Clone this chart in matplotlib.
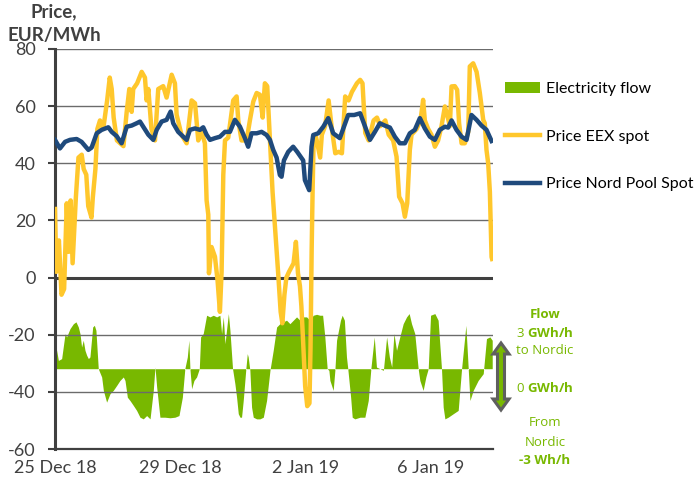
import matplotlib
matplotlib.use("Agg")
import matplotlib.pyplot as plt
from matplotlib.patches import Polygon

plt.rcParams['font.family'] = ['Lato', 'DejaVu Sans']
plt.rcParams['axes.unicode_minus'] = False
plt.rcParams['mathtext.fontset'] = 'custom'
plt.rcParams['mathtext.rm'] = 'Open Sans'
plt.rcParams['mathtext.bf'] = 'Open Sans:bold'

# hours since 25 Dec 2018 00:00
eex_h = [0, 1, 3, 5, 7, 9, 10.5, 12, 13.5, 16, 18, 20.5, 22, 24, 25.5, 28, 29, 31,
         32.5, 34.5, 37, 40, 42, 43.5, 45, 47.5, 50, 52.5, 55, 57, 58.8, 60, 63, 66.5,
         69, 70.3, 71.6, 74, 76.7, 79.2, 83, 85.6, 89.5, 92, 93.3, 97, 101, 104.8,
         107.4, 109.9, 112.5, 115, 116.3, 117.6, 118.1, 120.1, 122.7, 124.7, 126.5,
         127.8, 129.1, 130.4, 132.9, 136.7, 139.3, 140.6, 143.1, 147, 149.5, 152.1,
         154.7, 157.2, 159.3, 161, 162.8, 164.9, 166.9, 168.7, 171.2, 173.1, 174.4,
         176, 177.5, 179.5, 181.5, 183, 184.8, 186.4, 187.9, 189, 190.3, 191.9, 193.5,
         195.2, 196, 196.9, 197.6, 198.4, 200.2, 203.4, 204.7, 207.2, 209.9, 212.4,
         215, 217.5, 220.1, 222.6, 225.2, 227.8, 231.6, 234.1, 235.9, 238, 240.6,
         244.4, 247, 249.5, 253.4, 256, 259.4, 262, 264, 266.6, 268.4, 270.2, 272.2,
         273.5, 277.4, 280.4, 282.4, 283.7, 286.3, 288.8, 291.4, 293.9, 296.5, 299.1,
         300.8, 302.9, 304.2, 306.7, 308.5, 310, 311.9, 314.4, 317, 318.2, 320.8,
         323.4, 325.9, 328.5, 329.7, 331, 332.3, 333.6, 334.9, 335.3]
eex = [24, 2, 13, -6, -4, 26, 9, 27, 5, 28, 42, 43, 38, 36, 25, 21, 28, 38,
       52, 55, 52, 62, 70, 66, 56, 48, 47, 46, 58, 66, 58, 66, 68, 72,
       70, 62, 66, 52, 48, 66, 67, 63, 71, 68, 57, 50, 47, 62,
       61, 48, 51, 47, 27, 22, 1.5, 10.7, 7.3, -1, -12,
       2, 36, 48, 49, 62, 63.4, 55, 48, 48, 55, 61.6,
       64.6, 64, 56, 68, 67, 48, 30, 18, 1.5, -12, -16,
       -6, 0, 2, 3.7, 5, 12.5, 1.5, -3, -10, -22, -38, -45,
       -44, -25, 10, 30, 48, 49.3, 42, 50, 53, 62, 52,
       43.5, 44, 43.5, 63.4, 62, 65, 68, 69.2, 68, 50.6, 48,
       55, 56, 53, 55, 50, 48, 42.3, 28.3, 26, 21.3, 26, 44.7,
       50, 52, 55, 62.2, 55, 52, 50, 45.8, 48, 53, 59.9,
       57, 53, 66.9, 67, 65.7, 54, 47, 47, 51, 73.9, 75,
       72, 64.6, 55.2, 54, 44.7, 40, 30, 7.2, 6.5]

nps_h = [0, 3.8, 7.7, 11.5, 16.6, 20.4, 25.6, 28.1, 32, 35.8, 40.9, 43.5, 47.3,
         51.1, 55, 58.8, 62.6, 65.2, 67.7, 71.6, 75.4, 78, 81.8, 85.6, 88.7, 90.7,
         94.5, 98.4, 101, 103.5, 107.4, 111.2, 113.7, 116.3, 118.9, 122.7, 126.5,
         130.4, 134.2, 138, 141.9, 145.7, 148.2, 150.8, 154.7, 158.5, 162.3, 164.9,
         167.4, 170, 172.5, 173.8, 175.6, 178.9, 182.7, 185.8, 190.4, 191.7, 195,
         196.8, 198.1, 201.9, 205.8, 209.6, 213.4, 218.5, 224.9, 229.5, 234.1,
         237.9, 241.6, 245.4, 249.2, 253, 256.9, 260.7, 264.5, 268.4, 272.2, 276,
         279.9, 283.7, 287.6, 291.4, 295.2, 299.1, 301.6, 304.2, 308, 311.9, 315.7,
         319.5, 323.4, 327.2, 331, 334.9]
nps = [48.2, 45.2, 47.5, 48.2, 48.5, 47.5, 44.7, 45.5, 50.5, 51.7, 52.6, 51, 49.5,
       47, 52.8, 53.2, 54, 54.6, 52.8, 50, 48.2, 51.7, 54.6, 55.2, 58.1, 54,
       51, 49.3, 48.2, 51.7, 52.2, 51.7, 52.6, 50, 48.2, 48.8, 49.3,
       51, 51, 55.2, 52.8, 48.8, 45.8, 50.5, 50.5, 51, 49.9, 48.2,
       44.7, 42, 35.9, 35.3, 41, 44, 45.8, 44, 41, 34.1, 30.6,
       45.8, 49.9, 50.5, 52.8, 55.8, 50.5, 48.8, 56.9, 56.9, 57.5,
       52.8, 48.2, 51, 54, 53.2, 52.5, 49.3, 47, 47, 50.5, 51.7,
       55.8, 52.2, 49.3, 48.2, 51.7, 52.8, 52.5, 55, 51.7, 49.3, 48.2,
       56.9, 55.2, 53.2, 51.7, 47.8]

# electricity flow, GWh/h (positive = to Nordic)
flow_h = [0, 2.6, 5.1, 7.7, 8.9, 11.5, 14.1, 16.1, 17.9, 19.2, 20.4, 21.7, 23, 24.3,
          25.6, 26.8, 28.9, 30.2, 31.4, 33.2, 35.8, 37.1, 39.6, 42.2, 44.7, 47.3,
          49.8, 52.4, 53.7, 55.5, 57.5, 60.1, 62.6, 65.2, 67.7, 70.3, 72.9, 75.4,
          76.7, 78, 80.5, 84.3, 88.2, 92, 95.1, 97.7, 99.6, 101.5, 102.7, 103.5,
          104.8, 106.6, 108.6, 110.7, 111.7, 113.7, 116.3, 118.9, 121.4, 124, 126.5,
          127.8, 129.1, 130.4, 133, 134.2, 136.2, 138, 139.3, 140.6, 141.9, 143.1,
          144.4, 146.4, 147.5, 148.2, 149.5, 150.8, 152.1, 154.7, 157.2, 159.8,
          162.3, 164.9, 167.4, 170, 172.5, 175.1, 177.6, 180.2, 182.8, 185.3, 187.9,
          190.4, 193, 195.5, 198.1, 200.7, 203.2, 205.3, 207, 208.8, 210.1, 210.9,
          213.4, 214.7, 216, 219, 220.3, 222, 223.6, 224.6, 226.8, 228, 230, 234,
          237.7, 240.3, 242.3, 244.9, 246.6, 249.3, 251.9, 254.4, 256.5, 258.3, 260,
          262, 264.5, 267.1, 269.7, 271.7, 273.5, 276, 278.6, 279.9, 282.4, 284.5,
          286.3, 288.1, 291.4, 293.9, 296.5, 297.8, 299.1, 301.6, 305.5, 309.3,
          311.9, 315.2, 317, 318.3, 320.8, 324.6, 328.5, 331, 333.6, 335.4]
flow = [1.5, 0.45, 0.55, 1.9, 1.73, 2.18, 2.45, 2.55, 2.27, 1.9, 1.18, 1.55, 1.0, 0.73,
        0.55, 0.64, 2.27, 2.36, 2.09, 0, -0.45, -1.18, -1.82, -1.36, -1.18, -0.91,
        -0.64, -0.45, -0.64, -1.55, -1.73, -2.0, -2.27, -2.64, -2.73, -2.55, -2.73, -1.18,
        0.09, -1.0, -2.64, -2.64, -2.67, -2.64, -2.55, -1.55, 0, 0.64, 1.55, 0,
        -1.09, -0.64, -0.45, 0, 1.73, 1.91, 2.91, 2.82, 2.91, 2.82, 2.91,
        1.91, 2.82, 1.36, 3.0, 2.09, 0, -0.82, -1.55, -2.45, -2.64, -2.64,
        -1.73, 0, 0.82, 0.64, -0.09, -2.09, -2.64, -2.73, -2.73, -2.64,
        -1.73, -0.09, 1.0, 2.27, 2.45, 2.55, 2.64, 2.45, 2.64, 2.82, 2.64,
        2.82, 2.82, 2.64, 2.91, 2.96, 2.91, 2.91, 1.73, 0, -0.09, -0.64,
        -1.18, -0.09, 1.55, 2.64, 2.91, 2.64, 0.64, 0, -1.55, -2.64, -2.73, -2.64,
        -2.64, -1.73, 0, 1.73, 0.09, 0, -0.09, 1.73, 0.64, 0.09, 1.91,
        1.0, 1.73, 2.45, 2.82, 3.0, 2.45, 1.91, 0, -0.64, -1.18, -0.45,
        0, 2.91, 3.0, 2.64, 0, -2.09, -2.73, -2.64, -2.45, -2.27,
        0, 2.36, 0, -1.73, -1.18, -0.64, -0.27, 1.64, 1.73, 1.55]

tick_hours = [0, 96, 192, 288]
tick_labels = ['25 Dec 18', '29 Dec 18', '2 Jan 19', '6 Jan 19']

yellow = '#FFC72C'
navy = '#1F4A7C'
green = '#78B800'
grey = '#404040'

fig = plt.figure(figsize=(7, 4.84), dpi=100)
ax = fig.add_axes([55 / 700, 35 / 484, 438 / 700, 400 / 484])
ax2 = ax.twinx()

# flow sits on its own hidden scale: 0 GWh/h at about -32 on the price axis
ax2.fill_between(flow_h, 0, flow, color=green, linewidth=0, interpolate=True,
                 label='Electricity flow')
ax2.set_ylim(-4.37, 17.4)
ax2.axis('off')

ax.set_zorder(ax2.get_zorder() + 1)
ax.patch.set_visible(False)

for v in [-40, -20, 20, 40, 60, 80]:
    ax.axhline(v, color='#6b6b6b', lw=1.0, zorder=1)
ax.axhline(0, color=grey, lw=2.2, zorder=1)

ax.plot(eex_h, eex, color=yellow, lw=3.2, solid_joinstyle='round', zorder=3,
        label='Price EEX spot')
ax.plot(nps_h, nps, color=navy, lw=3.2, solid_joinstyle='round', zorder=4,
        label='Price Nord Pool Spot')

ax.set_xlim(0, 336)
ax.set_ylim(-60, 80)
ax.set_yticks(range(-60, 81, 20))
ax.set_xticks(tick_hours)
ax.set_xticklabels(tick_labels)
ax.tick_params(axis='y', length=5, width=1.5, color=grey, labelsize=13,
               labelcolor=grey, pad=9)
ax.tick_params(axis='x', length=0, labelsize=13, labelcolor=grey, pad=8)
for side in ['top', 'right']:
    ax.spines[side].set_visible(False)
ax.spines['left'].set_color(grey)
ax.spines['left'].set_linewidth(2.2)
ax.spines['bottom'].set_color(grey)
ax.spines['bottom'].set_linewidth(1.6)

fig.text(54 / 700, 1 - 12 / 484, 'Price,', ha='center', va='center',
         fontsize=13.5, fontweight='bold', color=grey)
fig.text(54 / 700, 1 - 35 / 484, 'EUR/MWh', ha='center', va='center',
         fontsize=13.5, fontweight='bold', color=grey)

handles = ax2.get_legend_handles_labels()[0] + ax.get_legend_handles_labels()[0]
labels = ['Electricity flow', 'Price EEX spot', 'Price Nord Pool Spot']
fig.legend(handles, labels, loc='upper left', bbox_to_anchor=(505 / 700, 1 - 82 / 484),
           frameon=False, fontsize=11.5, handlelength=2.2, handleheight=0.65,
           handletextpad=0.35, labelspacing=2.1, borderpad=0, borderaxespad=0,
           labelcolor='black')

# flow scale note on the right
note = dict(ha='center', va='center', color=green, fontsize=9.5, family='Open Sans')
fig.text(545 / 700, 1 - 314 / 484, 'Flow', fontweight='bold', **note)
fig.text(545 / 700, 1 - 333 / 484, r'3 $\mathbf{GWh/h}$', **note)
fig.text(545 / 700, 1 - 351 / 484, 'to Nordic', **note)
fig.text(545 / 700, 1 - 388 / 484, r'0 $\mathbf{GWh/h}$', **note)
fig.text(545 / 700, 1 - 423 / 484, 'From', **note)
fig.text(545 / 700, 1 - 442 / 484, 'Nordic', **note)
fig.text(545 / 700, 1 - 460 / 484, '-3 Wh/h', fontweight='bold', **note)

# double-headed arrow beside the note
cx, top, bot, hw, sw, hl = 501, 343, 410, 8, 3.5, 11
pts = [(cx, top), (cx + hw, top + hl), (cx + sw, top + hl), (cx + sw, bot - hl),
       (cx + hw, bot - hl), (cx, bot), (cx - hw, bot - hl), (cx - sw, bot - hl),
       (cx - sw, top + hl), (cx - hw, top + hl)]
pts = [(px / 700, 1 - py / 484) for px, py in pts]
fig.patches.append(Polygon(pts, closed=True, transform=fig.transFigure,
                           facecolor=green, edgecolor='#5f5f5f', lw=2.2))

fig.savefig('out.png', dpi=100)
